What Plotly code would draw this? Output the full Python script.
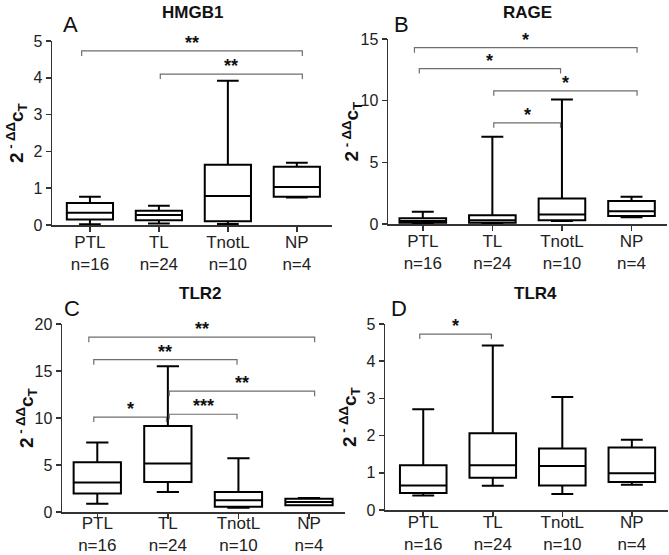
import plotly.graph_objects as go

W, H = 669, 555

categories = ["PTL", "TL", "TnotL", "NP"]
n_labels = ["n=16", "n=24", "n=10", "n=4"]

# Panel A: HMGB1
hmgb1_low = [0.02, 0.04, 0.03, 0.75]
hmgb1_q1 = [0.15, 0.13, 0.10, 0.77]
hmgb1_med = [0.33, 0.27, 0.79, 1.03]
hmgb1_q3 = [0.60, 0.39, 1.64, 1.58]
hmgb1_high = [0.77, 0.52, 3.92, 1.69]
hmgb1_brackets = [("PTL", "NP", 4.73, "**"), ("TL", "NP", 4.10, "**")]

# Panel B: RAGE
rage_low = [0.05, 0.08, 0.24, 0.54]
rage_q1 = [0.10, 0.10, 0.30, 0.65]
rage_med = [0.25, 0.30, 0.78, 1.03]
rage_q3 = [0.46, 0.70, 2.06, 1.87]
rage_high = [1.00, 7.07, 10.10, 2.20]
rage_brackets = [("PTL", "NP", 14.3, "*"), ("PTL", "TnotL", 12.6, "*"),
                 ("TL", "NP", 10.8, "*"), ("TL", "TnotL", 8.2, "*")]

# Panel C: TLR2
tlr2_low = [0.89, 2.14, 0.46, 0.71]
tlr2_q1 = [1.96, 3.20, 0.57, 0.72]
tlr2_med = [3.13, 5.16, 1.25, 1.07]
tlr2_q3 = [5.30, 9.15, 2.14, 1.42]
tlr2_high = [7.40, 15.50, 5.73, 1.50]
tlr2_brackets = [("PTL", "NP", 18.6, "**"), ("PTL", "TnotL", 16.2, "**"),
                 ("TL", "NP", 12.85, "**"), ("PTL", "TL", 10.1, "*"),
                 ("TL", "TnotL", 10.4, "***")]

# Panel D: TLR4
tlr4_low = [0.39, 0.65, 0.43, 0.68]
tlr4_q1 = [0.46, 0.87, 0.66, 0.75]
tlr4_med = [0.66, 1.20, 1.18, 0.99]
tlr4_q3 = [1.20, 2.06, 1.65, 1.68]
tlr4_high = [2.71, 4.42, 3.04, 1.89]
tlr4_brackets = [("PTL", "TL", 4.73, "*")]

y_ticks_a = [0, 1, 2, 3, 4, 5]
y_ticks_b = [0, 5, 10, 15]
y_ticks_c = [0, 5, 10, 15, 20]
y_ticks_d = [0, 1, 2, 3, 4, 5]

panels = [
    dict(title="HMGB1", letter="A", low=hmgb1_low, q1=hmgb1_q1, med=hmgb1_med, q3=hmgb1_q3,
         high=hmgb1_high, brackets=hmgb1_brackets, yticks=y_ticks_a,
         px=(52, 332), py=(41, 225), xr=[-0.55, 3.51], title_xy=(192, 12), letter_xy=(70, 25),
         standoff=-4),
    dict(title="RAGE", letter="B", low=rage_low, q1=rage_q1, med=rage_med, q3=rage_q3,
         high=rage_high, brackets=rage_brackets, yticks=y_ticks_b,
         px=(388, 667), py=(39, 224), xr=[-0.5, 3.51], title_xy=(527, 12), letter_xy=(401, 25),
         standoff=-4),
    dict(title="TLR2", letter="C", low=tlr2_low, q1=tlr2_q1, med=tlr2_med, q3=tlr2_q3,
         high=tlr2_high, brackets=tlr2_brackets, yticks=y_ticks_c,
         px=(62, 345), py=(324, 512), xr=[-0.5, 3.51], title_xy=(200, 293), letter_xy=(72, 308),
         standoff=-10),
    dict(title="TLR4", letter="D", low=tlr4_low, q1=tlr4_q1, med=tlr4_med, q3=tlr4_q3,
         high=tlr4_high, brackets=tlr4_brackets, yticks=y_ticks_d,
         px=(385, 668), py=(324, 510), xr=[-0.55, 3.52], title_xy=(535, 293), letter_xy=(399, 308),
         standoff=-9),
]

FONT = "Liberation Sans, Arial, sans-serif"
BR_COLOR = "#6e6e6e"
AX_COLOR = "#333333"

fig = go.Figure()
layout = dict(width=W, height=H, margin=dict(l=0, r=0, t=0, b=0, autoexpand=False),
              paper_bgcolor="white", plot_bgcolor="white", showlegend=False,
              template="none",
              font=dict(family=FONT, color="#222222"))
shapes, annotations = [], []

def fx(p):
    return p / W

def fy(p):
    return 1 - p / H

ticktext = [f"{c}<br>{n}" for c, n in zip(categories, n_labels)]
xpos = list(range(len(categories)))

for k, p in enumerate(panels, start=1):
    xa = "x" if k == 1 else f"x{k}"
    ya = "y" if k == 1 else f"y{k}"
    xkey = "xaxis" if k == 1 else f"xaxis{k}"
    ykey = "yaxis" if k == 1 else f"yaxis{k}"
    ymax = p["yticks"][-1]
    fig.add_trace(go.Box(
        x=xpos, q1=p["q1"], median=p["med"], q3=p["q3"],
        lowerfence=p["low"], upperfence=p["high"],
        width=0.67, whiskerwidth=0.47, fillcolor="white",
        line=dict(color="black", width=2), boxpoints=False,
        hoverinfo="skip", xaxis=xa, yaxis=ya,
    ))
    layout[xkey] = dict(domain=[fx(p["px"][0]), min(1.0, fx(p["px"][1]))], anchor=ya,
                        range=p["xr"], tickvals=xpos, ticktext=ticktext,
                        showline=True, linecolor=AX_COLOR, linewidth=1.5,
                        ticks="outside", ticklen=5, tickwidth=1.5, tickcolor=AX_COLOR,
                        showgrid=False, zeroline=False, automargin=False,
                        ticklabelstandoff=p["standoff"],
                        tickfont=dict(size=17, family=FONT, color="#222222"))
    layout[ykey] = dict(domain=[fy(p["py"][1]), fy(p["py"][0])], anchor=xa,
                        range=[0, ymax], tickvals=p["yticks"],
                        showline=True, linecolor=AX_COLOR, linewidth=1.5,
                        ticks="outside", ticklen=5, tickwidth=1.5, tickcolor=AX_COLOR,
                        showgrid=False, zeroline=False, automargin=False,
                        tickfont=dict(size=16, family=FONT, color="#222222"))
    # brackets
    plot_h = p["py"][1] - p["py"][0]
    drop = 5 / plot_h * ymax
    for (a, b, yv, lab) in p["brackets"]:
        i, j = categories.index(a), categories.index(b)
        x1 = i - 0.12 if (i == 0 and j == 3) else i + (0.02 if i > 0 else -0.05)
        x2 = j + 0.08 if j == 3 else j - 0.02
        shapes.append(dict(type="path", xref=xa, yref=ya,
                           path=f"M {x1},{yv - drop} L {x1},{yv} L {x2},{yv} L {x2},{yv - drop}",
                           line=dict(color=BR_COLOR, width=1.2)))
        annotations.append(dict(x=(x1 + x2) / 2, y=yv, xref=xa, yref=ya, text=f"<b>{lab}</b>",
                                showarrow=False, yanchor="bottom", yshift=-4,
                                font=dict(size=18, family=FONT, color="#111111")))
    # title
    annotations.append(dict(x=fx(p["title_xy"][0]), y=fy(p["title_xy"][1]), xref="paper",
                            yref="paper", text=f"<b>{p['title']}</b>", showarrow=False,
                            xanchor="center", yanchor="middle",
                            font=dict(size=17, family=FONT, color="#111111")))
    annotations.append(dict(x=fx(p["letter_xy"][0]), y=fy(p["letter_xy"][1]), xref="paper",
                            yref="paper", text=p["letter"], showarrow=False,
                            xanchor="center", yanchor="middle",
                            font=dict(size=22, family=FONT, color="#111111")))
    # y-axis title
    annotations.append(dict(x=fx(p["px"][0] - 36), y=fy((p["py"][0] + p["py"][1]) / 2),
                            xref="paper", yref="paper", textangle=-90,
                            text="<b>2</b><sup><b> - ΔΔ</b></sup><b>c</b><sub><b>T</b></sub>",
                            showarrow=False, xanchor="center", yanchor="middle",
                            font=dict(size=19, family=FONT, color="#111111")))

layout["shapes"] = shapes
layout["annotations"] = annotations
fig.update_layout(**layout)
fig.write_html("out.html", config={"displayModeBar": False, "staticPlot": True},
               post_script="document.body.style.margin='0px';")
